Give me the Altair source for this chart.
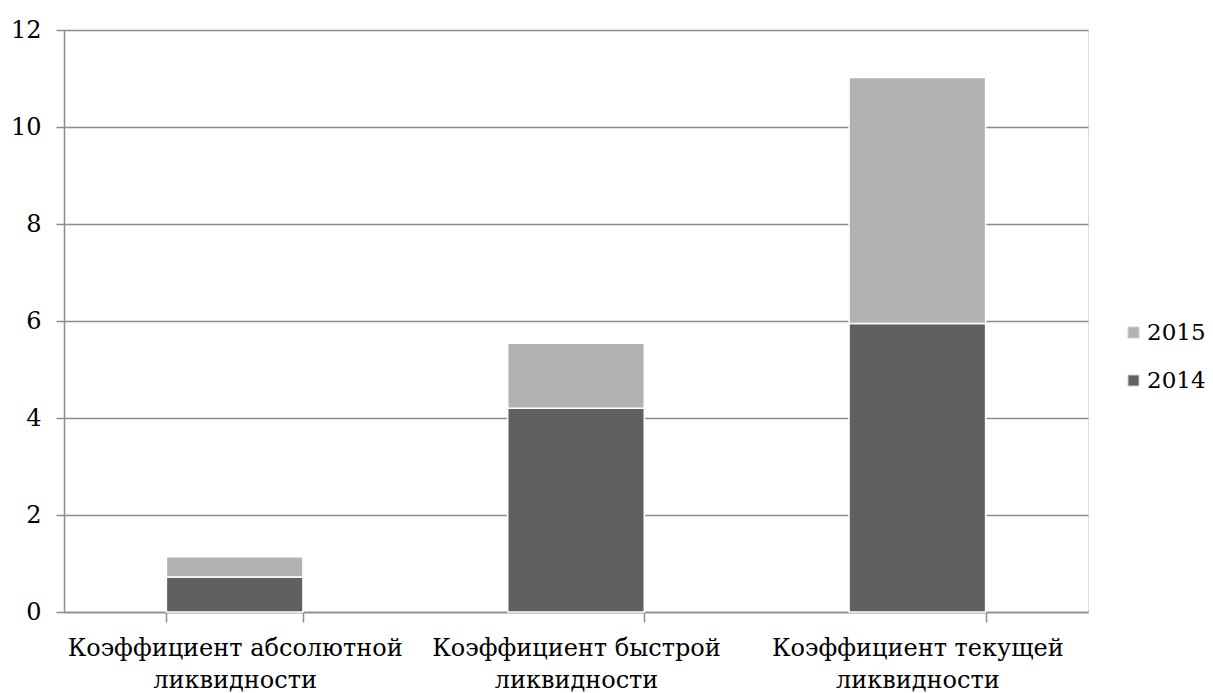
import altair as alt
import pandas as pd

categories = [
    "Коэффициент абсолютной ликвидности",
    "Коэффициент быстрой ликвидности",
    "Коэффициент текущей ликвидности",
]
years = ["2014", "2015"]
values_2014 = [0.72, 4.20, 5.95]
values_2015 = [0.42, 1.34, 5.07]
y_ticks = [0, 2, 4, 6, 8, 10, 12]

rows = []
for c, a, b in zip(categories, values_2014, values_2015):
    rows.append({"cat": c, "year": "2014", "value": a})
    rows.append({"cat": c, "year": "2015", "value": b})
df = pd.DataFrame(rows)

FONT = "DejaVu Serif"

label_expr = ("[slice(datum.label, 0, lastindexof(datum.label, ' ')), "
              "slice(datum.label, lastindexof(datum.label, ' ') + 1)]")

chart = alt.Chart(df).mark_bar(stroke="white", strokeWidth=1.5).encode(
    x=alt.X(
        "cat:N",
        sort=categories,
        scale=alt.Scale(paddingInner=0.6, paddingOuter=0.3),
        axis=alt.Axis(
            title=None,
            labelAngle=0,
            labelExpr=label_expr,
            labelFont=FONT,
            labelFontSize=24,
            labelColor="black",
            labelLineHeight=32,
            labelPadding=14,
            tickSize=10,
            tickColor="#8c8c8c",
            tickWidth=1.5,
            tickBand="extent",
            domainColor="#8c8c8c",
            domainWidth=1.5,
            grid=False,
            labelLimit=600,
        ),
    ),
    y=alt.Y(
        "value:Q",
        stack="zero",
        scale=alt.Scale(domain=[0, 12], nice=False),
        axis=alt.Axis(
            title=None,
            values=y_ticks,
            labelFont=FONT,
            labelFontSize=24,
            labelColor="black",
            labelPadding=15,
            tickSize=8,
            tickColor="#8c8c8c",
            tickWidth=1.5,
            domainColor="#8c8c8c",
            domainWidth=1.5,
            grid=True,
            gridColor="#8c8c8c",
            gridWidth=1.5,
        ),
    ),
    color=alt.Color(
        "year:N",
        scale=alt.Scale(domain=years, range=["#606060", "#b2b2b2"]),
        legend=alt.Legend(
            title=None,
            values=["2015", "2014"],
            orient="none",
            legendX=1058,
            legendY=291,
            padding=0,
            symbolType="square",
            symbolSize=121,
            symbolStrokeColor="#cfcfcf",
            symbolStrokeWidth=1,
            labelFont=FONT,
            labelFontSize=23,
            labelColor="black",
            labelOffset=2,
            rowPadding=24,
        ),
    ),
    order=alt.Order("year:N", sort="ascending"),
).properties(
    width=1024,
    height=582,
    autosize=alt.AutoSizeParams(type="none"),
    padding={"left": 56, "top": 22, "right": 117, "bottom": 81},
).configure_view(stroke=None).configure(font=FONT)

chart.save("out.html", embed_options={"renderer": "svg", "actions": False})
